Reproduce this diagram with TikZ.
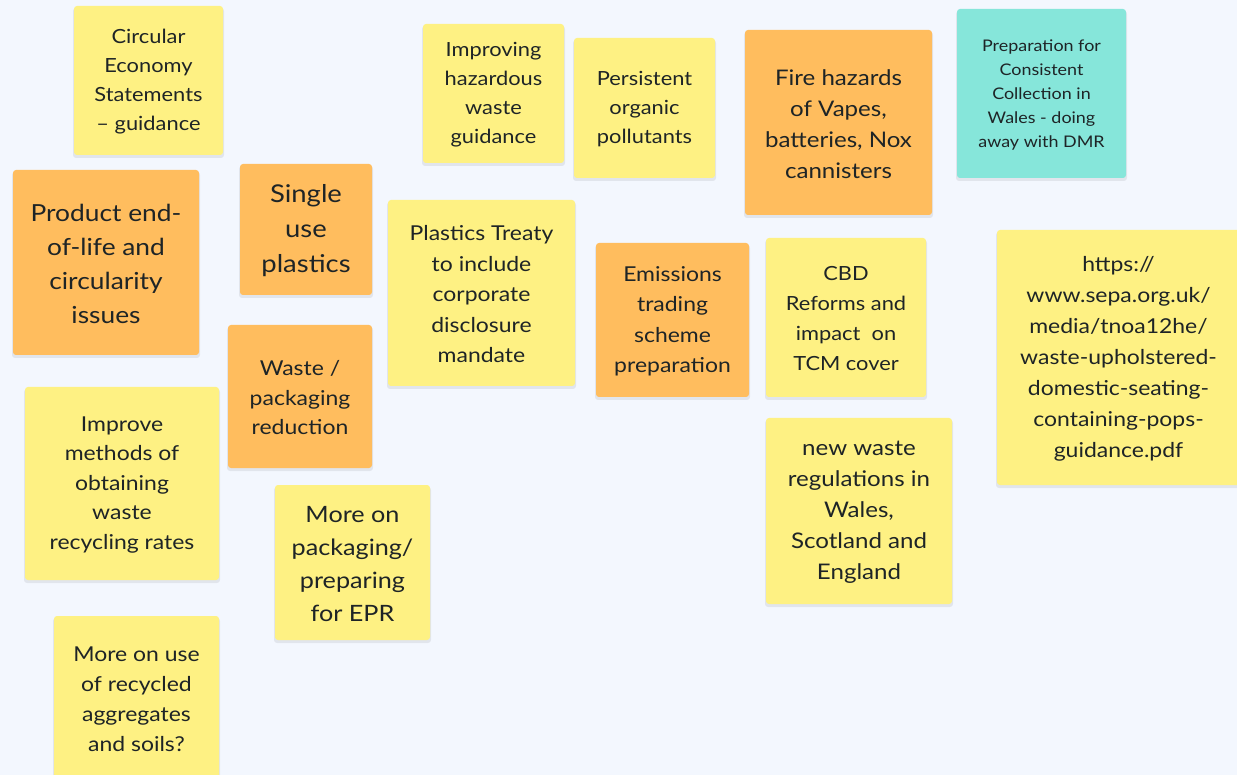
\documentclass[tikz,border=0pt]{standalone}
\usepackage{fontspec}
\setmainfont{Lato}[FakeStretch=1.12]
\definecolor{bgcol}{HTML}{F3F7FE}
\definecolor{ylw}{HTML}{FEF183}
\definecolor{org}{HTML}{FFBD5E}
\definecolor{tea}{HTML}{86E6DA}
\definecolor{ink}{HTML}{1E2426}
\tikzset{
  notebox/.style={rectangle, rounded corners=3pt, inner sep=0pt, align=center, text=ink, draw=none},
  noteshadow/.style={fill=black, opacity=0.07, rounded corners=3pt}
}
\newcommand\stickynote[9]{%
  \fill[noteshadow] (#2-1,#3+2) rectangle (#4+1,#5+3);
  \fill[#6, rounded corners=3pt] (#2,#3) rectangle (#4,#5);
  \node[notebox, font=\fontsize{#7}{#8}\selectfont] (#1) at ({(#2+#4)/2},{(#3+#5)/2+1.5}) {#9};%
}
\begin{document}
\begin{tikzpicture}[x=1pt,y=-1pt]
\useasboundingbox (0,0) rectangle (1237,775);
\fill[bgcol] (0,0) rectangle (1237,775);
\clip (0,0) rectangle (1237,775);
\stickynote{ce}{74}{6}{223}{155}{ylw}{19.5}{29}{Circular\\Economy\\Statements\\– guidance}
\stickynote{pe}{13}{170}{199}{355}{org}{23.5}{34}{Product end-\\of-life and\\circularity\\issues}
\stickynote{su}{240}{164}{372}{295}{org}{24.5}{35}{Single\\use\\plastics}
\stickynote{ih}{423}{24}{564}{163}{ylw}{19.5}{29}{Improving\\hazardous\\waste\\guidance}
\stickynote{po}{574}{38}{715}{178}{ylw}{19.5}{29}{Persistent\\organic\\pollutants}
\stickynote{fh}{745}{30}{932}{215}{org}{21.5}{31}{Fire hazards\\of Vapes,\\batteries, Nox\\cannisters}
\stickynote{pc}{957}{9}{1126}{178}{tea}{16}{24}{Preparation for\\Consistent\\Collection in\\Wales - doing\\away with DMR}
\stickynote{pt}{388}{200}{575}{386}{ylw}{20.5}{30.5}{Plastics Treaty\\to include\\corporate\\disclosure\\mandate}
\stickynote{et}{596}{243}{749}{397}{org}{20.5}{30.5}{Emissions\\trading\\scheme\\preparation}
\stickynote{cbd}{766}{238}{926}{397}{ylw}{19.5}{30}{CBD\\Reforms and\\impact\ \ on\\TCM cover}
\stickynote{url}{997}{230}{1240}{485}{ylw}{20.5}{31}{https://\\www.sepa.org.uk/\\media/tnoa12he/\\waste-upholstered-\\domestic-seating-\\containing-pops-\\guidance.pdf}
\stickynote{wp}{228}{325}{372}{468}{org}{20.5}{29.5}{Waste /\\packaging\\reduction}
\stickynote{im}{25}{387}{219}{580}{ylw}{20.5}{29.5}{Improve\\methods of\\obtaining\\waste\\recycling rates}
\stickynote{mp}{275}{485}{430}{640}{ylw}{22.5}{33}{More on\\packaging/\\preparing\\for EPR}
\stickynote{nw}{766}{418}{952}{604}{ylw}{21.5}{31}{new waste\\regulations in\\Wales,\\Scotland and\\England}
\stickynote{mu}{54}{616}{219}{779}{ylw}{20.5}{30}{More on use\\of recycled\\aggregates\\and soils?}
\end{tikzpicture}
\end{document}
